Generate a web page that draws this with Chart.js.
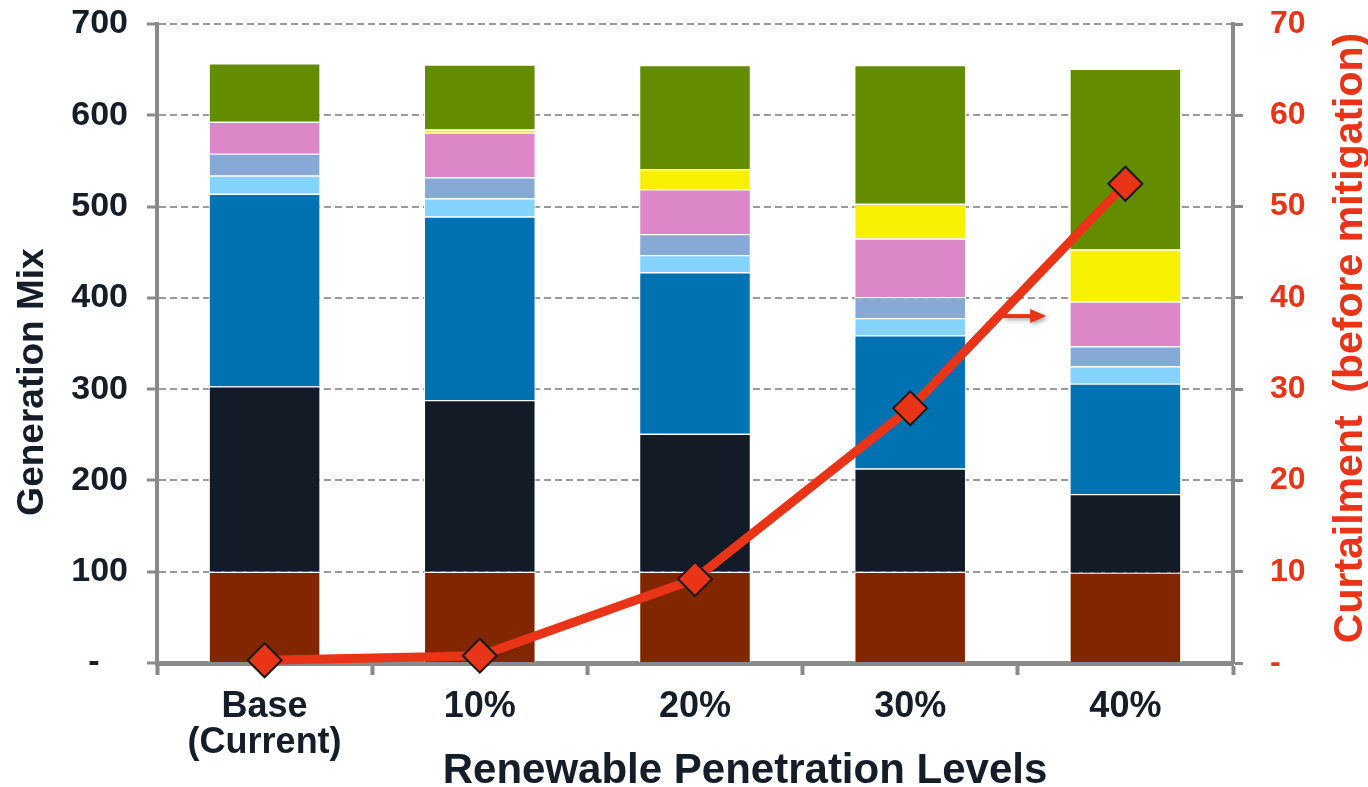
<!DOCTYPE html>
<html>
<head>
<meta charset="utf-8">
<script src="https://cdn.jsdelivr.net/npm/chart.js@4.4.1/dist/chart.umd.min.js"></script>
<style>
  html, body { margin: 0; padding: 0; background: #ffffff; }
  #wrap { width: 1368px; height: 787px; position: relative; }
</style>
</head>
<body>
<div id="wrap"><canvas id="c" width="1368" height="787"></canvas></div>
<script>
// ---- data ----
const categories = [['Base', '(Current)'], '10%', '20%', '30%', '40%'];
const nuclear   = [100, 100, 100, 100, 99];
const coal      = [203, 188, 151, 113, 86];
const gasCC     = [211, 201, 177, 146, 121];
const gasCT     = [20, 20, 19, 19, 19];
const hydro     = [24, 23, 23, 23, 22];
const other     = [35, 49, 49, 64, 49];
const solar     = [0, 3.5, 22, 38, 57];
const wind      = [64, 71, 114, 152, 198];
const curtailment = [0.3, 0.8, 9.2, 27.9, 52.5];
const leftTicks  = [0, 100, 200, 300, 400, 500, 600, 700];
const rightTicks = [0, 10, 20, 30, 40, 50, 60, 70];

const xTitle = 'Renewable Penetration Levels';
const yTitle = 'Generation Mix';
const y2Title = 'Curtailment  (before mitigation)';

// ---- styles ----
const DARK = '#141d28';
const RED = '#ea3418';
const AXIS = '#8a8a8a';
const GRID = '#9a9a9a';
const FONT = '"Liberation Sans", Arial, sans-serif';

function barSet(label, data, color) {
  return {
    type: 'bar', label, data, backgroundColor: color,
    borderColor: 'rgba(255,255,255,0.95)', borderWidth: 1.2,
    yAxisID: 'y', stack: 's', order: 1,
    categoryPercentage: 0.52, barPercentage: 1.0
  };
}

function noPad(s) { s.paddingTop = 0; s.paddingBottom = 0; s.paddingLeft = 0; s.paddingRight = 0; }

const titlesPlugin = {
  id: 'titles',
  afterDatasetsDraw(chart) {
    const ctx = chart.ctx;
    const xs = chart.scales.x, y2 = chart.scales.y2;
    // small arrow pointing to the right axis
    const ay = y2.getPixelForValue(38);
    const ax0 = xs.getPixelForValue(3) + 93;
    const ax1 = xs.getPixelForValue(3) + 136;
    ctx.save();
    ctx.shadowColor = 'rgba(0,0,0,0.35)';
    ctx.shadowBlur = 4; ctx.shadowOffsetX = 2; ctx.shadowOffsetY = 2;
    ctx.strokeStyle = RED; ctx.fillStyle = RED; ctx.lineWidth = 4;
    ctx.beginPath(); ctx.moveTo(ax0, ay); ctx.lineTo(ax1 - 12, ay); ctx.stroke();
    ctx.beginPath(); ctx.moveTo(ax1, ay); ctx.lineTo(ax1 - 16, ay - 7); ctx.lineTo(ax1 - 16, ay + 7); ctx.closePath(); ctx.fill();
    ctx.restore();
  },
  afterDraw(chart) {
    const ctx = chart.ctx;
    ctx.save();
    ctx.textAlign = 'center'; ctx.textBaseline = 'middle';
    // left axis title
    ctx.fillStyle = DARK;
    ctx.font = 'bold 37px ' + FONT;
    ctx.save(); ctx.translate(33, 382); ctx.rotate(-Math.PI / 2); ctx.fillText(yTitle, 0, 0); ctx.restore();
    // right axis title (reads bottom to top)
    ctx.fillStyle = RED;
    ctx.font = 'bold 41px ' + FONT;
    ctx.save(); ctx.translate(1351, 338); ctx.rotate(-Math.PI / 2); ctx.fillText(y2Title, 0, 0); ctx.restore();
    // x axis title
    ctx.fillStyle = DARK;
    ctx.font = 'bold 42px ' + FONT;
    ctx.fillText(xTitle, 745, 771);
    ctx.restore();
  }
};

new Chart(document.getElementById('c'), {
  data: {
    labels: categories,
    datasets: [
      {
        type: 'line', label: 'Curtailment', data: curtailment, yAxisID: 'y2', order: 0,
        borderColor: RED, borderWidth: 9, tension: 0, clip: false,
        pointStyle: 'rectRot', pointRadius: 17, pointHoverRadius: 17,
        pointBackgroundColor: RED, pointBorderColor: '#1a1a1a', pointBorderWidth: 2
      },
      barSet('Nuclear', nuclear, '#812600'),
      barSet('Coal', coal, '#131c26'),
      barSet('Gas CC', gasCC, '#0071b1'),
      barSet('Gas CT', gasCT, '#84d3fd'),
      barSet('Hydro', hydro, '#86a9d6'),
      barSet('Other', other, '#db87c8'),
      barSet('Solar', solar, '#f7f000'),
      barSet('Wind', wind, '#638c00')
    ]
  },
  options: {
    responsive: false,
    devicePixelRatio: 1,
    animation: false,
    layout: { autoPadding: false, padding: { top: 24, left: 0, right: 0, bottom: 0 } },
    plugins: { legend: { display: false }, tooltip: { enabled: false }, title: { display: false } },
    scales: {
      x: {
        stacked: true,
        grid: { offset: true, drawOnChartArea: false, drawTicks: true, tickLength: 12, tickColor: AXIS, tickWidth: 4 },
        border: { color: AXIS, width: 5 },
        ticks: { color: DARK, font: { family: FONT, size: 36, weight: 'bold', lineHeight: 1.0 }, padding: 14, maxRotation: 0, autoSkip: false },
        afterFit(s) { s.height = 124; noPad(s); }
      },
      y: {
        stacked: true, position: 'left', min: 0, max: 700,
        afterBuildTicks(s) { s.ticks = leftTicks.map(v => ({ value: v })); },
        grid: { color: GRID, lineWidth: 2, tickLength: 10, tickColor: AXIS, tickWidth: 3, tickBorderDash: [] },
        border: { color: AXIS, width: 4, dash: [7, 4] },
        ticks: { color: DARK, font: { family: FONT, size: 34, weight: 'bold' }, padding: 19,
                 callback: v => v === 0 ? '-   ' : String(v) },
        afterFit(s) { s.width = 157; noPad(s); }
      },
      y2: {
        position: 'right', min: 0, max: 70,
        afterBuildTicks(s) { s.ticks = rightTicks.map(v => ({ value: v })); },
        grid: { drawOnChartArea: false, tickLength: 10, tickColor: AXIS, tickWidth: 3 },
        border: { color: AXIS, width: 4 },
        ticks: { color: RED, font: { family: FONT, size: 32, weight: 'bold' }, padding: 27,
                 callback: v => v === 0 ? '-' : String(v) },
        afterFit(s) { s.width = 135; noPad(s); }
      }
    }
  },
  plugins: [titlesPlugin]
});
</script>
</body>
</html>
